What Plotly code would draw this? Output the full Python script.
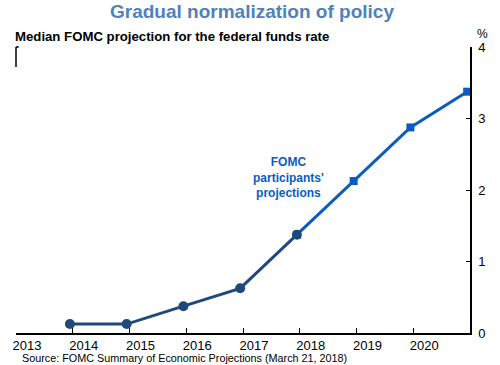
import plotly.graph_objects as go

# Data
hist_x = [2013.95, 2014.95, 2015.95, 2016.95, 2017.95]
hist_y = [0.125, 0.125, 0.375, 0.625, 1.375]
proj_x = [2017.95, 2018.95, 2019.95, 2020.95]
proj_y = [1.375, 2.125, 2.875, 3.375]
year_ticks = [2013, 2014, 2015, 2016, 2017, 2018, 2019, 2020]
year_labels = [str(y) for y in year_ticks]

DARK = "#1F497D"
BRIGHT = "#0A5CC2"
FONT = "Liberation Sans, Arial, sans-serif"

fig = go.Figure()
fig.add_trace(go.Scatter(
    x=proj_x, y=proj_y, mode="lines+markers",
    line=dict(color=BRIGHT, width=3),
    marker=dict(symbol="square", size=8, color=BRIGHT),
    showlegend=False, hoverinfo="skip"))
fig.add_trace(go.Scatter(
    x=hist_x, y=hist_y, mode="lines+markers",
    line=dict(color=DARK, width=3),
    marker=dict(symbol="circle", size=10, color=DARK),
    showlegend=False, hoverinfo="skip"))

fig.update_layout(
    width=500, height=365,
    margin=dict(l=16, r=30, t=47, b=32),
    paper_bgcolor="white", plot_bgcolor="white",
    font=dict(family=FONT, size=13, color="black"),
    xaxis=dict(
        range=[2013, 2021], tickvals=year_ticks, ticktext=year_labels,
        ticks="inside", ticklen=5, tickcolor="black", tickwidth=1,
        ticklabelshift=11,
        showline=True, linecolor="black", linewidth=1.5,
        showgrid=False, zeroline=False,
        tickfont=dict(size=13, family=FONT), fixedrange=True),
    yaxis=dict(
        range=[0, 4], dtick=1, side="right",
        ticks="inside", ticklen=4, tickcolor="black",
        ticklabelstandoff=4,
        showline=True, linecolor="black", linewidth=1.5,
        showgrid=False, zeroline=False,
        tickfont=dict(size=13, family=FONT), fixedrange=True),
)

# small corner mark top-left
fig.add_shape(type="line", xref="x domain", yref="y domain",
              x0=0, x1=0, y0=1, y1=0.93, line=dict(color="black", width=1.5))
fig.add_shape(type="line", xref="x domain", yref="y domain",
              x0=0, x1=0.006, y0=1, y1=1, line=dict(color="black", width=1.5))

fig.add_annotation(text="<b>Gradual normalization of policy</b>",
                   xref="paper", yref="paper", x=0.5, y=1, yanchor="top",
                   showarrow=False, font=dict(size=19, color="#4F81BD", family=FONT),
                   xshift=9, yshift=47 + 1)
fig.add_annotation(text="<b>Median FOMC projection for the federal funds rate</b>",
                   xref="paper", yref="paper", x=0, y=1, xanchor="left", yanchor="middle",
                   showarrow=False, font=dict(size=13.2, color="black", family=FONT),
                   xshift=-3, yshift=11)
fig.add_annotation(text="%", xref="paper", yref="paper", x=1, y=1,
                   xanchor="center", yanchor="middle", showarrow=False,
                   font=dict(size=12, family=FONT), xshift=12, yshift=13)
fig.add_annotation(text="<b>FOMC<br>participants'<br>projections</b>",
                   x=2017.8, y=2.17, xref="x", yref="y", showarrow=False,
                   font=dict(size=12, color=BRIGHT, family=FONT), align="center")
fig.add_annotation(text="Source: FOMC Summary of Economic Projections (March 21, 2018)",
                   xref="paper", yref="paper", x=0, y=0, xanchor="left", yanchor="middle",
                   showarrow=False, font=dict(size=10.8, family=FONT),
                   xshift=4, yshift=-25)

fig.write_html("out.html", config={"displayModeBar": False},
               post_script="document.body.style.margin='0';")
